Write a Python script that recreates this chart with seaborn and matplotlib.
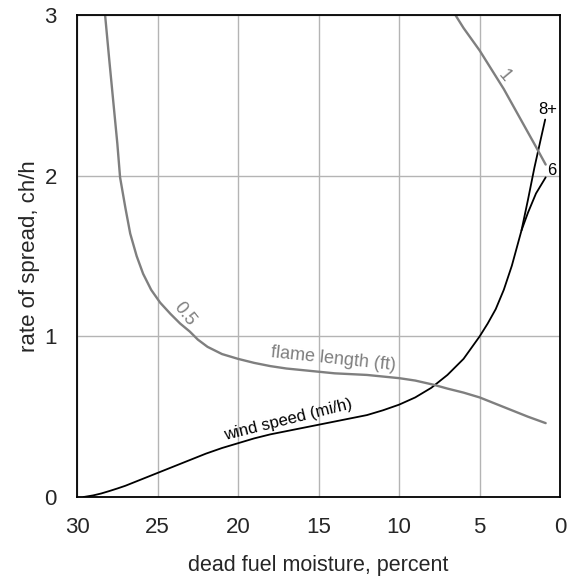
import numpy as np
import pandas as pd
import matplotlib
matplotlib.use("Agg")
import matplotlib.pyplot as plt
import seaborn as sns
from matplotlib.ticker import MultipleLocator

# wind speed 6 mi/h (black)
wind6_x = [29.6, 29.0, 28.5, 28.0, 27.5, 27.0, 26.0, 25.0, 24.0, 23.0, 22.0, 21.0, 20.0, 19.0, 18.0, 17.0, 16.0, 15.0,
           14.0, 13.0, 12.0, 11.0, 10.0, 9.0, 8.0, 7.0, 6.0, 5.0, 4.5, 4.0, 3.5, 3.0, 2.4, 2.0, 1.5, 0.9]
wind6_y = [0.0, 0.01, 0.022, 0.037, 0.053, 0.07, 0.11, 0.15, 0.19, 0.23, 0.27, 0.305, 0.335, 0.365, 0.39, 0.41, 0.43, 0.45,
           0.47, 0.49, 0.51, 0.54, 0.575, 0.62, 0.68, 0.76, 0.86, 1.0, 1.08, 1.17, 1.29, 1.44, 1.66, 1.77, 1.89, 1.99]
# wind speed 8+ mi/h (black), splits from the 6 curve
wind8_x = [2.4, 2.0, 1.6, 1.2, 0.93]
wind8_y = [1.66, 1.85, 2.05, 2.23, 2.35]
# flame length 0.5 ft (gray)
flame05_x = [28.26, 28.0, 27.76, 27.5, 27.33, 27.0, 26.7, 26.3, 25.9, 25.4, 24.84, 24.2, 23.6, 23.0, 22.5, 21.9,
             21.0, 20.0, 19.0, 18.0, 17.0, 16.0, 15.0, 14.0, 13.0, 12.0, 11.2, 10.0, 9.0, 7.9, 7.0, 6.0, 5.0,
             4.0, 3.0, 2.0, 0.9]
flame05_y = [3.0, 2.72, 2.47, 2.2, 1.99, 1.8, 1.64, 1.5, 1.39, 1.29, 1.21, 1.14, 1.08, 1.03, 0.98, 0.935,
             0.89, 0.86, 0.835, 0.815, 0.80, 0.79, 0.78, 0.77, 0.765, 0.76, 0.752, 0.74, 0.725, 0.70, 0.675, 0.65, 0.62,
             0.58, 0.54, 0.50, 0.46]
# flame length 1 ft (gray)
flame1_x = [6.5, 6.0, 5.5, 5.0, 4.5, 4.0, 3.5, 3.0, 2.5, 2.0, 1.5, 0.9]
flame1_y = [3.0, 2.92, 2.85, 2.78, 2.70, 2.62, 2.54, 2.45, 2.36, 2.27, 2.18, 2.07]

xticks = [30, 25, 20, 15, 10, 5, 0]
yticks = [0, 1, 2, 3]

sns.set_style("white")
plt.rcParams["font.family"] = ["Liberation Sans", "DejaVu Sans"]

fig, ax = plt.subplots(figsize=(5.71, 5.83), dpi=100)
fig.subplots_adjust(left=0.135, right=0.981, top=0.974, bottom=0.1475)

gray = "#7f7f7f"
sns.lineplot(x=wind6_x, y=wind6_y, sort=False, color="black", lw=1.3, ax=ax)
sns.lineplot(x=wind8_x, y=wind8_y, sort=False, color="black", lw=1.3, ax=ax)
sns.lineplot(x=flame05_x, y=flame05_y, sort=False, color=gray, lw=1.7, ax=ax)
sns.lineplot(x=flame1_x, y=flame1_y, sort=False, color=gray, lw=1.7, ax=ax)

ax.set_xlim(30, 0)
ax.set_ylim(0, 3)
ax.set_xticks(xticks)
ax.set_yticks(yticks)
ax.xaxis.set_minor_locator(MultipleLocator(1))
ax.yaxis.set_minor_locator(MultipleLocator(0.5))
ax.tick_params(axis="both", which="major", direction="out", length=8.5, width=1.2, labelsize=16,
               color="black", pad=6)
ax.tick_params(axis="both", which="minor", direction="out", length=4.5, width=1.0, color="black")
ax.grid(True, which="major", color="#b4b4b4", lw=1.0)
ax.set_axisbelow(True)
for s in ax.spines.values():
    s.set_color("black")
    s.set_linewidth(1.3)

ax.set_xlabel("dead fuel moisture, percent", fontsize=15.5, labelpad=12)
ax.set_ylabel("rate of spread, ch/h", fontsize=16, labelpad=3)

ax.text(23.3, 1.14, "0.5", color=gray, fontsize=13, rotation=-52, ha="center", va="center")
ax.text(14.1, 0.86, "flame length (ft)", color=gray, fontsize=13, rotation=-6, ha="center", va="center")
ax.text(16.9, 0.48, "wind speed (mi/h)", color="black", fontsize=12, rotation=14, ha="center", va="center")
ax.text(3.5, 2.62, "1", color=gray, fontsize=13, rotation=-50, ha="center", va="center")
ax.text(0.75, 2.41, "8+", color="black", fontsize=12, ha="center", va="center")
ax.text(0.55, 2.03, "6", color="black", fontsize=12, ha="center", va="center")

fig.savefig("out.png", dpi=100)
